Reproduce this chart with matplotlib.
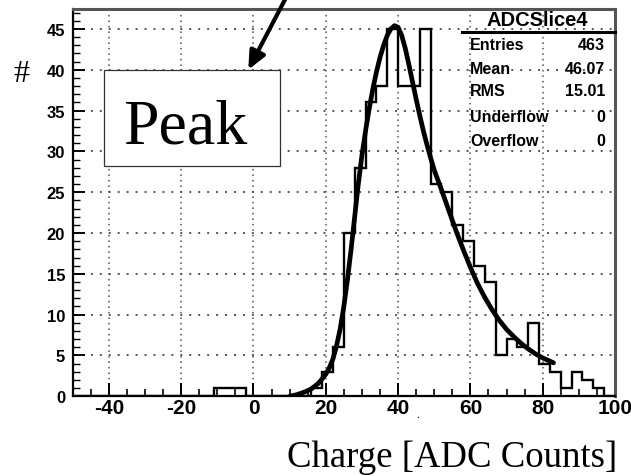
import numpy as np
import matplotlib
matplotlib.use("Agg")
import matplotlib.pyplot as plt
from matplotlib.patches import Rectangle, FancyArrowPatch, ArrowStyle
from matplotlib.lines import Line2D

# ---------------- data ----------------
bin_start = -50
bin_width = 3
counts = [0, 0, 0, 0, 0, 0, 0, 0, 0, 0,      # -50 .. -20
          0, 0, 0, 1, 1, 1, 0, 0, 0, 0,      # -20 .. 10
          0, 0, 1, 3, 6, 20, 28, 36, 38, 45,  # 10 .. 40
          38, 38, 45, 26, 25, 21, 19, 16, 14, 5,  # 40 .. 70
          7, 6, 9, 4, 3, 1, 3, 2, 1, 0]      # 70 .. 100

fit_x = [10, 12, 14, 16, 18, 20, 21, 22, 23, 24, 25, 26, 27, 28, 29, 30,
         31, 32, 33, 34, 35, 36, 37, 38, 39, 40, 41, 42, 43, 44, 45, 46,
         47, 48, 49, 50, 52, 54, 56, 58, 60, 62, 64, 66, 68, 70, 72, 74,
         76, 78, 80, 82, 83]
fit_y = [0.0, 0.2, 0.5, 0.9, 1.6, 2.7, 3.5, 4.6, 6.2, 8.3, 11.0, 14.3, 18.0,
         22.0, 26.0, 29.5, 32.5, 35.2, 37.6, 39.7, 41.5, 43.0, 44.2, 45.0,
         45.4, 45.2, 44.2, 42.6, 40.6, 38.5, 36.4, 34.4, 32.5, 30.8, 29.2,
         27.7, 25.3, 22.8, 20.3, 18.0, 15.8, 13.8, 12.1, 10.6, 9.3, 8.2,
         7.3, 6.5, 5.8, 5.2, 4.7, 4.3, 4.1]

x_ticks = [-40, -20, 0, 20, 40, 60, 80, 100]
y_ticks = [0, 5, 10, 15, 20, 25, 30, 35, 40, 45]

stats_title = "ADCSlice4"
stats_labels = ["Entries", "Mean", "RMS", "Underflow", "Overflow"]
stats_values = ["463", "46.07", "15.01", "0", "0"]

x_label = "Charge [ADC Counts]"
y_label = "#"
box_text = "Peak"

# ---------------- figure ----------------
plt.rcParams["axes.unicode_minus"] = False
W, H = 631, 477
fig = plt.figure(figsize=(W / 100, H / 100), dpi=100)


def fx(px):
    return px / W


def fy(py):
    return (H - py) / H


ax_l, ax_r, ax_t, ax_b = 72.7, 615.0, 9.5, 397.3
ax = fig.add_axes([fx(ax_l), fy(ax_b), (ax_r - ax_l) / W, (ax_b - ax_t) / H])

edges = bin_start + bin_width * np.arange(len(counts) + 1)
ax.stairs(counts, edges, baseline=0, color="black", lw=1.7, zorder=3)
ax.plot(fit_x, fit_y, color="black", lw=3.4, zorder=4,
        solid_capstyle="round", solid_joinstyle="round")

ax.set_xlim(-50, 100)
ax.set_ylim(0, 47.5)
ax.set_xticks(x_ticks)
ax.set_yticks(y_ticks)
ax.set_xticks(np.arange(-50, 101, 5), minor=True)
ax.set_yticks(np.arange(0, 48, 1), minor=True)

ax.xaxis.grid(True, which="major", color="#666666",
              linestyle=(0, (1, 2.3)), lw=1.2, zorder=1)
ax.yaxis.grid(True, which="major", color="#555555",
              linestyle=(0, (1, 3.6)), lw=1.4, zorder=1)
ax.set_axisbelow(True)

ax.tick_params(axis="both", which="both", direction="in",
               top=False, right=False, color="black")
ax.tick_params(axis="x", which="major", length=9.5, width=1.4,
               pad=1.5)
ax.tick_params(axis="x", which="minor", length=5, width=1.2)
ax.tick_params(axis="y", which="major", length=8.5, width=1.4,
               pad=5.5)
ax.tick_params(axis="y", which="minor", length=4.8, width=1.0)

for lab in ax.get_xticklabels():
    lab.set_fontfamily("Liberation Sans")
    lab.set_fontweight("bold")
    lab.set_fontsize(15)
for lab in ax.get_yticklabels():
    lab.set_fontfamily("Liberation Sans")
    lab.set_fontweight("bold")
    lab.set_fontsize(12)

for side in ["left", "bottom"]:
    ax.spines[side].set_linewidth(1.6)
    ax.spines[side].set_color("black")
for side in ["top", "right"]:
    ax.spines[side].set_linewidth(2.2)
    ax.spines[side].set_color("#555555")

# ---------------- stats box ----------------
fig.text(fx(537.5), fy(21), stats_title, ha="center", va="center",
         fontfamily="Liberation Sans", fontweight="bold", fontsize=14.5)
fig.add_artist(Line2D([fx(461.7), fx(615)], [fy(33), fy(33)],
                      color="black", lw=2.2))
row_y = [45, 70, 92, 118, 142]
for lab, val, ry in zip(stats_labels, stats_values, row_y):
    fig.text(fx(470), fy(ry), lab, ha="left", va="center",
             fontfamily="Liberation Sans", fontweight="bold", fontsize=11.5)
    fig.text(fx(605), fy(ry), val, ha="right", va="center",
             fontfamily="Liberation Sans", fontweight="bold", fontsize=11.5)

# ---------------- annotation box + arrow ----------------
fig.add_artist(Rectangle((fx(104), fy(166.7)), 176 / W, 95.7 / H,
                         facecolor="white", edgecolor="#333333", lw=0.9,
                         zorder=5))
fig.text(fx(185), fy(143.3), box_text, ha="center", va="baseline",
         fontfamily="Liberation Serif", fontsize=46, zorder=6)

arrow = FancyArrowPatch((fx(289.5), fy(-8)), (fx(248.3), fy(70.7)),
                        transform=fig.transFigure,
                        arrowstyle=ArrowStyle("-|>", head_length=1.1,
                                              head_width=0.5),
                        mutation_scale=10, lw=3, color="black",
                        shrinkA=0, shrinkB=0, zorder=7)
fig.add_artist(arrow)

# ---------------- axis titles ----------------
fig.text(fx(21), fy(74), y_label, ha="center", va="center",
         fontfamily="Liberation Serif", fontsize=23)
fig.text(fx(617), fy(467), x_label, ha="right", va="baseline",
         fontfamily="Liberation Serif", fontsize=26.5)
fig.text(fx(418), fy(416), ".", ha="center", va="center",
         fontfamily="Liberation Serif", fontsize=8)

fig.savefig("out.png", dpi=100)
